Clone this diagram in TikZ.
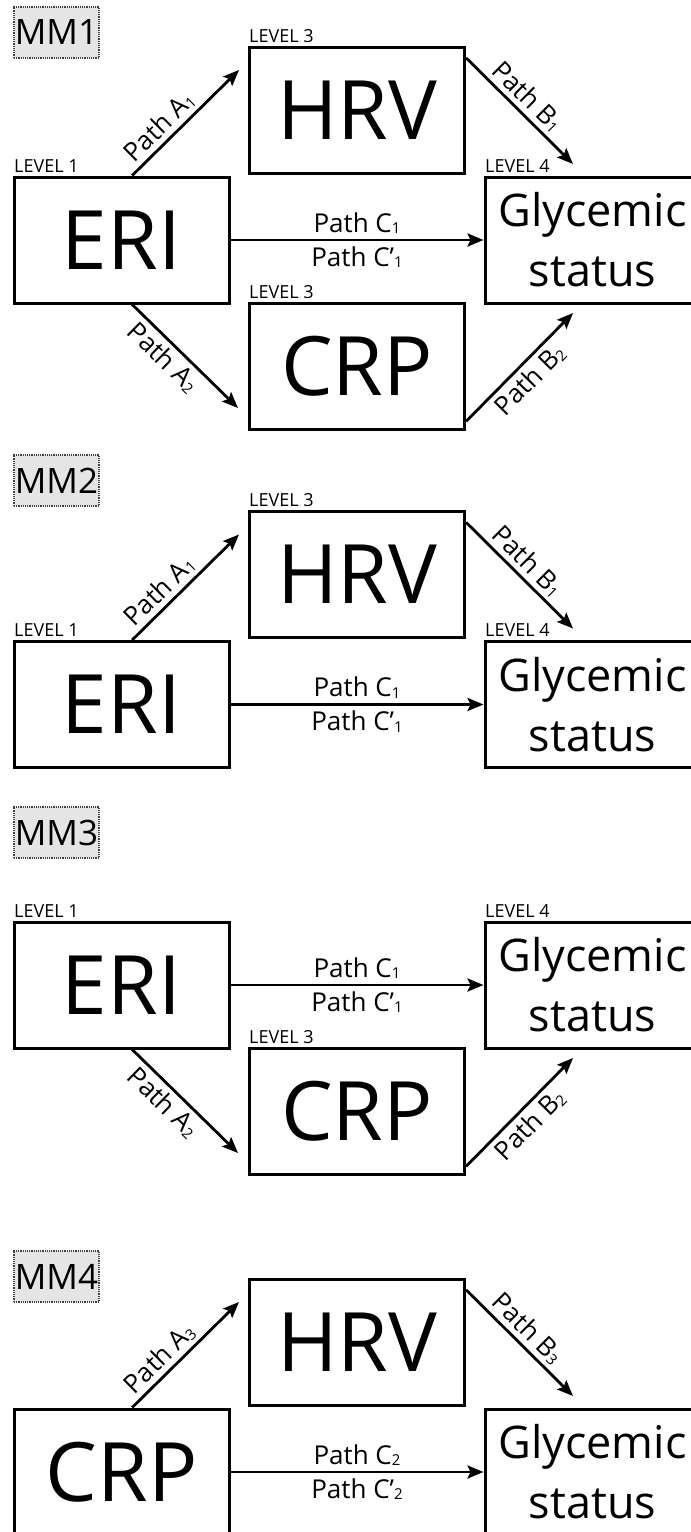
\documentclass[tikz,border=0pt]{standalone}
\usepackage{fontspec}
\setmainfont{Open Sans}
\usetikzlibrary{arrows.meta,calc}
\newcommand\psub[1]{{\fontsize{15}{15}\selectfont\raisebox{-1.5pt}{#1}}}
\begin{document}
\begin{tikzpicture}[x=1pt,y=-1pt,
  box/.style={draw, line width=3pt, minimum width=215pt, minimum height=126pt, inner sep=0pt, align=center},
  big/.style={font=\fontsize{82}{82}\selectfont},
  glyc/.style={font=\fontsize{45}{60}\selectfont},
  arr/.style={line width=2.8pt, -{Stealth[length=16pt,width=13pt,inset=3pt]}},
  lvl/.style={font=\fontsize{18}{18}\selectfont, anchor=base west, inner sep=0pt},
  plab/.style={font=\fontsize{26}{26}\selectfont, inner sep=4pt},
  clab/.style={font=\fontsize{26}{26}\selectfont, inner sep=5pt},
  mm/.style={draw=black!75, densely dotted, line width=1.2pt, fill=black!10, minimum width=85pt, minimum height=51pt, inner sep=0pt, font=\fontsize{35}{35}\selectfont}
]
\useasboundingbox (0,0) rectangle (691,1532);
\clip (0,0) rectangle (691,1532);
\fill[white] (0,0) rectangle (691,1532);

% ---------------- MM1 ----------------
\node[mm] (mm1) at (56.5,32.5) {MM1};
\begin{scope}
\node[box,big] (eri1) at (121.5,240) {ERI};
\node[box,big] (hrv1) at (357,110) {HRV};
\node[box,glyc] (gly1) at (592.5,240) {Glycemic\\status};
\node[box,big] (crp1) at (357,366) {CRP};
\node[lvl] (l1m1) at (14,172) {LEVEL 1};
\node[lvl] (l3m1) at (249,42) {LEVEL 3};
\node[lvl] (l4m1) at (485,172) {LEVEL 4};
\node[lvl] (l3bm1) at (249,298) {LEVEL 3};
\coordinate (a1e) at (239,70);
\coordinate (b1e) at (573,164);
\coordinate (a2e) at (238,408);
\coordinate (b2e) at (573,313);
\draw[arr] ($(eri1.north west)!0.549!(eri1.north east)$) -- node[plab,sloped,above,pos=0.36] {Path A\psub{1}} (a1e);
\draw[arr] ($(hrv1.north east)!0.095!(hrv1.south east)$) -- node[plab,sloped,above,pos=0.47] {Path B\psub{1}} (b1e);
\draw[arr] ($(eri1.south west)!0.549!(eri1.south east)$) -- node[plab,sloped,below,pos=0.4] {Path A\psub{2}} (a2e);
\draw[arr] ($(crp1.north east)!0.93!(crp1.south east)$) -- node[plab,sloped,below,pos=0.49] {Path B\psub{2}} (b2e);
\draw[arr] (eri1.east) -- node[clab,above] {Path C\psub{1}} node[clab,below] {Path C’\psub{1}} (gly1.west);
\end{scope}

% ---------------- MM2 ----------------
\node[mm] (mm2) at (56.5,480.5) {MM2};
\begin{scope}[shift={(0,464.5)}]
\node[box,big] (eri2) at (121.5,240) {ERI};
\node[box,big] (hrv2) at (357,110) {HRV};
\node[box,glyc] (gly2) at (592.5,240) {Glycemic\\status};
\node[lvl] (l1m2) at (14,172) {LEVEL 1};
\node[lvl] (l3m2) at (249,42) {LEVEL 3};
\node[lvl] (l4m2) at (485,172) {LEVEL 4};
\coordinate (a1f) at (239,70);
\coordinate (b1f) at (573,164);
\draw[arr] ($(eri2.north west)!0.549!(eri2.north east)$) -- node[plab,sloped,above,pos=0.36] {Path A\psub{1}} (a1f);
\draw[arr] ($(hrv2.north east)!0.095!(hrv2.south east)$) -- node[plab,sloped,above,pos=0.47] {Path B\psub{1}} (b1f);
\draw[arr] (eri2.east) -- node[clab,above] {Path C\psub{1}} node[clab,below] {Path C’\psub{1}} (gly2.west);
\end{scope}

% ---------------- MM3 ----------------
\node[mm] (mm3) at (56.5,832.5) {MM3};
\begin{scope}[shift={(0,745)}]
\node[box,big] (eri3) at (121.5,240) {ERI};
\node[box,glyc] (gly3) at (592.5,240) {Glycemic\\status};
\node[box,big] (crp3) at (357,366) {CRP};
\node[lvl] (l1m3) at (14,172) {LEVEL 1};
\node[lvl] (l4m3) at (485,172) {LEVEL 4};
\node[lvl] (l3m3) at (249,298) {LEVEL 3};
\coordinate (a2g) at (238,408);
\coordinate (b2g) at (573,313);
\draw[arr] ($(eri3.south west)!0.549!(eri3.south east)$) -- node[plab,sloped,below,pos=0.4] {Path A\psub{2}} (a2g);
\draw[arr] ($(crp3.north east)!0.93!(crp3.south east)$) -- node[plab,sloped,below,pos=0.49] {Path B\psub{2}} (b2g);
\draw[arr] (eri3.east) -- node[clab,above] {Path C\psub{1}} node[clab,below] {Path C’\psub{1}} (gly3.west);
\end{scope}

% ---------------- MM4 ----------------
\node[mm] (mm4) at (56.5,1276.5) {MM4};
\begin{scope}[shift={(0,1232)}]
\node[box,big] (crp4) at (121.5,240) {CRP};
\node[box,big] (hrv4) at (357,110) {HRV};
\node[box,glyc] (gly4) at (592.5,240) {Glycemic\\status};
\coordinate (a3e) at (239,70);
\coordinate (b3e) at (573,164);
\draw[arr] ($(crp4.north west)!0.549!(crp4.north east)$) -- node[plab,sloped,above,pos=0.36] {Path A\psub{3}} (a3e);
\draw[arr] ($(hrv4.north east)!0.095!(hrv4.south east)$) -- node[plab,sloped,above,pos=0.47] {Path B\psub{3}} (b3e);
\draw[arr] (crp4.east) -- node[clab,above] {Path C\psub{2}} node[clab,below] {Path C’\psub{2}} (gly4.west);
\end{scope}
\end{tikzpicture}
\end{document}
